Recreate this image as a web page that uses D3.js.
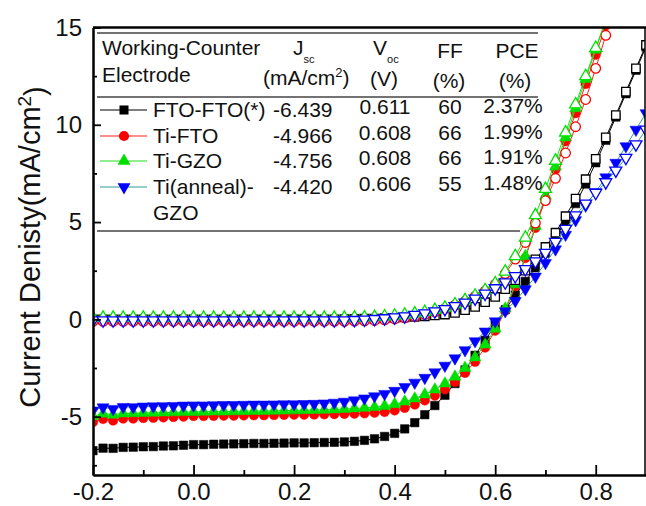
<!DOCTYPE html>
<html>
<head>
<meta charset="utf-8">
<script src="https://cdn.jsdelivr.net/npm/d3@7"></script>
<style>
body { margin: 0; background: #fff; }
text { font-family: "Liberation Sans", Arial, Helvetica, sans-serif; fill: #111; }
</style>
</head>
<body>
<script>
// Voltage grid (V)
var voltage = [-0.20,-0.18,-0.16,-0.14,-0.12,-0.10,-0.08,-0.06,-0.04,-0.02,
  0.00,0.02,0.04,0.06,0.08,0.10,0.12,0.14,0.16,0.18,
  0.20,0.22,0.24,0.26,0.28,0.30,0.32,0.34,0.36,0.38,
  0.40,0.42,0.44,0.46,0.48,0.50,0.52,0.54,0.56,0.58,
  0.60,0.62,0.64,0.66,0.68,0.70,0.72,0.74,0.76,0.78,
  0.80,0.82,0.84,0.86,0.88,0.90];

// Current density under light (filled markers), mA/cm2
var ftoLight = [-6.75,-6.62,-6.63,-6.58,-6.57,-6.55,-6.54,-6.51,-6.50,-6.47,
  -6.44,-6.44,-6.42,-6.41,-6.40,-6.39,-6.38,-6.38,-6.37,-6.36,
  -6.35,-6.35,-6.34,-6.33,-6.32,-6.30,-6.27,-6.22,-6.14,-6.02,
  -5.86,-5.63,-5.31,-4.90,-4.43,-3.90,-3.30,-2.60,-1.85,-1.08,
  -0.30,0.50,1.25,1.95,2.65,3.40,4.20,5.05,5.95,6.95,
  8.05,9.20,10.40,11.60,12.80,14.00];
var tiFtoLight = [-5.28,-5.12,-5.20,-5.10,-5.10,-5.07,-5.06,-5.04,-5.02,-5.00,
  -4.97,-4.97,-4.96,-4.95,-4.95,-4.94,-4.93,-4.93,-4.92,-4.91,
  -4.90,-4.90,-4.89,-4.88,-4.87,-4.86,-4.85,-4.83,-4.80,-4.76,
  -4.68,-4.55,-4.38,-4.17,-3.92,-3.60,-3.22,-2.75,-2.18,-1.45,
  -0.58,0.45,1.70,3.15,4.70,6.20,7.70,9.15,10.60,12.10,
  13.60,15.10,16.60];
var tiGzoLight = [-4.98,-4.85,-4.90,-4.84,-4.83,-4.81,-4.80,-4.79,-4.78,-4.77,
  -4.76,-4.75,-4.74,-4.74,-4.73,-4.72,-4.71,-4.71,-4.70,-4.69,
  -4.68,-4.67,-4.66,-4.65,-4.63,-4.61,-4.58,-4.55,-4.51,-4.45,
  -4.36,-4.23,-4.07,-3.86,-3.61,-3.30,-2.95,-2.50,-1.96,-1.30,
  -0.48,0.55,1.80,3.25,4.80,6.35,7.85,9.35,10.85,12.35,
  13.85,15.35,16.80];
var tiAnnLight = [-4.68,-4.52,-4.60,-4.50,-4.51,-4.48,-4.47,-4.46,-4.45,-4.43,
  -4.42,-4.42,-4.41,-4.40,-4.40,-4.39,-4.38,-4.38,-4.37,-4.36,
  -4.36,-4.35,-4.34,-4.32,-4.28,-4.23,-4.16,-4.06,-3.95,-3.83,
  -3.67,-3.47,-3.25,-3.00,-2.72,-2.38,-2.00,-1.58,-1.12,-0.62,
  -0.10,0.42,0.95,1.55,2.20,2.90,3.60,4.35,5.10,5.85,
  6.55,7.30,8.05,8.90,9.75,10.60];

// Current density in the dark (open markers)
var ftoDark = [0.00,0.00,0.00,0.00,0.00,0.00,0.00,0.00,0.00,0.00,
  0.00,0.00,0.00,0.00,0.00,0.00,0.00,0.00,0.00,0.00,
  0.00,0.00,0.00,0.00,0.00,0.01,0.02,0.03,0.04,0.06,
  0.08,0.10,0.13,0.16,0.20,0.25,0.33,0.47,0.64,0.88,
  1.15,1.55,2.02,2.50,3.08,3.72,4.45,5.30,6.20,7.20,
  8.25,9.35,10.50,11.70,12.90,14.10];
var tiFtoDark = [-0.10,-0.10,-0.10,-0.10,-0.10,-0.10,-0.10,-0.10,-0.10,-0.10,
  -0.10,-0.10,-0.10,-0.10,-0.10,-0.10,-0.10,-0.10,-0.10,-0.10,
  -0.10,-0.10,-0.10,-0.10,-0.10,-0.10,-0.09,-0.08,-0.06,-0.03,
  0.02,0.08,0.15,0.25,0.38,0.55,0.73,0.93,1.18,1.45,
  1.80,2.35,3.10,3.95,4.95,6.10,7.25,8.55,9.90,11.30,
  12.90,14.60,16.30];
var tiGzoDark = [0.08,0.08,0.08,0.08,0.08,0.08,0.08,0.08,0.08,0.08,
  0.08,0.08,0.08,0.08,0.08,0.08,0.08,0.08,0.08,0.08,
  0.08,0.08,0.08,0.08,0.08,0.08,0.09,0.10,0.12,0.15,
  0.19,0.24,0.30,0.38,0.48,0.60,0.77,0.98,1.22,1.50,
  1.85,2.45,3.25,4.20,5.35,6.70,8.15,9.60,11.05,12.50,
  13.95,15.40,16.90];
var tiAnnDark = [-0.05,-0.05,-0.05,-0.05,-0.05,-0.05,-0.05,-0.05,-0.05,-0.05,
  -0.05,-0.05,-0.05,-0.05,-0.05,-0.05,-0.05,-0.05,-0.05,-0.05,
  -0.05,-0.05,-0.05,-0.05,-0.05,-0.05,-0.03,-0.01,0.02,0.06,
  0.10,0.16,0.23,0.31,0.41,0.53,0.68,0.86,1.07,1.32,
  1.60,1.90,2.22,2.58,2.98,3.42,3.98,4.65,5.35,5.95,
  6.50,7.05,7.65,8.30,9.00,9.75];

// Table values
var cellNames = ["FTO-FTO(*)", "Ti-FTO", "Ti-GZO", "Ti(anneal)-"];
var jscValues = ["-6.439", "-4.966", "-4.756", "-4.420"];
var vocValues = ["0.611", "0.608", "0.608", "0.606"];
var ffValues = ["60", "66", "66", "55"];
var pceValues = ["2.37%", "1.99%", "1.91%", "1.48%"];

var xTicks = [-0.2, 0.0, 0.2, 0.4, 0.6, 0.8];
var xMinor = [-0.1, 0.1, 0.3, 0.5, 0.7];
var yTicks = [-5, 0, 5, 10, 15];
var yMinor = [-7.5, -2.5, 2.5, 7.5, 12.5];

var series = [
  { light: ftoLight, dark: ftoDark, color: "#000000", line: "#000000", shape: d3.symbolSquare, size: 72, rot: 0 },
  { light: tiFtoLight, dark: tiFtoDark, color: "#ff0000", line: "#ff2020", shape: d3.symbolCircle, size: 72, rot: 0 },
  { light: tiGzoLight, dark: tiGzoDark, color: "#00e000", line: "#20e020", shape: d3.symbolTriangle, size: 62, rot: 0 },
  { light: tiAnnLight, dark: tiAnnDark, color: "#0000ff", line: "#339c9c", shape: d3.symbolTriangle, size: 62, rot: 180 }
];

var width = 646, height = 506;
var plotLeft = 93, plotRight = 646, plotTop = 27.5, plotBottom = 475;

var svg = d3.select("body").append("svg")
    .attr("width", width)
    .attr("height", height);

var x = d3.scaleLinear().domain([-0.2, 0.9]).range([plotLeft, plotRight]);
var y = d3.scaleLinear().domain([-8, 15]).range([plotBottom, plotTop]);

svg.append("clipPath").attr("id", "plot-clip")
  .append("rect")
    .attr("x", plotLeft).attr("y", plotTop)
    .attr("width", 645 - plotLeft).attr("height", plotBottom - plotTop);

var plot = svg.append("g").attr("clip-path", "url(#plot-clip)");

function drawCurve(s, values, open) {
    var pts = values.map(function(v, i) { return [voltage[i], v]; });
    var line = d3.line()
        .x(function(d) { return x(d[0]); })
        .y(function(d) { return y(d[1]); });
    plot.append("path")
        .datum(pts)
        .attr("d", line)
        .attr("fill", "none")
        .attr("stroke", s.line)
        .attr("stroke-width", 1);
    var sym = d3.symbol().type(s.shape).size(s.size);
    plot.selectAll(null)
        .data(pts)
        .enter().append("path")
        .attr("d", sym)
        .attr("transform", function(d) { return "translate(" + x(d[0]) + "," + y(d[1]) + ") rotate(" + s.rot + ")"; })
        .attr("fill", open ? "#fff" : s.color)
        .attr("stroke", s.color)
        .attr("stroke-width", open ? 1.3 : 0.5);
}

// Light curves first, dark curves on top
series.forEach(function(s) { drawCurve(s, s.light, false); });
series.forEach(function(s) { drawCurve(s, s.dark, true); });

// Axes
function styleAxis(g) {
    g.selectAll(".domain").attr("stroke", "#000").attr("stroke-width", 2);
    g.selectAll(".tick line").attr("stroke", "#000").attr("stroke-width", 1.8);
    g.selectAll(".tick text").style("font-size", "24px").attr("fill", "#111");
}

svg.append("g")
    .attr("transform", "translate(0," + plotBottom + ")")
    .call(d3.axisBottom(x).tickValues(xTicks).tickFormat(function(d) { return d.toFixed(1); })
        .tickSize(-10).tickSizeOuter(0).tickPadding(8))
    .call(styleAxis);
svg.append("g")
    .attr("transform", "translate(0," + plotBottom + ")")
    .call(d3.axisBottom(x).tickValues(xMinor).tickFormat("").tickSize(-5).tickSizeOuter(0))
    .call(styleAxis);

svg.append("g")
    .attr("transform", "translate(" + plotLeft + ",0)")
    .call(d3.axisLeft(y).tickValues(yTicks).tickFormat(function(d) { return String(d); })
        .tickSize(-8).tickSizeOuter(0).tickPadding(11))
    .call(styleAxis);
svg.append("g")
    .attr("transform", "translate(" + plotLeft + ",0)")
    .call(d3.axisLeft(y).tickValues(yMinor).tickFormat("").tickSize(-4).tickSizeOuter(0))
    .call(styleAxis);

// Top and right frame
svg.append("line").attr("x1", plotLeft).attr("x2", 646).attr("y1", plotTop).attr("y2", plotTop)
    .attr("stroke", "#000").attr("stroke-width", 2.5);
svg.append("line").attr("x1", 645).attr("x2", 645).attr("y1", plotTop).attr("y2", plotBottom)
    .attr("stroke", "#000").attr("stroke-width", 1.5);

// Y axis label
var yl = svg.append("text")
    .attr("transform", "translate(40,247) rotate(-90)")
    .attr("text-anchor", "middle")
    .style("font-size", "29px");
yl.append("tspan").text("Current Denisty(mA/cm");
yl.append("tspan").attr("dy", "-0.45em").style("font-size", "19px").text("2");
yl.append("tspan").attr("dy", "0.45em").text(")");

// Table inside the plot
var table = svg.append("g");
[[33, 538], [97, 538], [231, 520]].forEach(function(l) {
    table.append("line")
        .attr("x1", 97).attr("x2", l[1]).attr("y1", l[0]).attr("y2", l[0])
        .attr("stroke", "#444").attr("stroke-width", 1.5);
});

function addText(str, tx, ty, anchor) {
    return table.append("text")
        .attr("x", tx).attr("y", ty)
        .attr("text-anchor", anchor || "start")
        .style("font-size", "21px")
        .text(str);
}

addText("Working-Counter", 102, 55);
addText("Electrode", 102, 82);

var jh = addText("J", 293, 55);
jh.append("tspan").attr("dy", 8).style("font-size", "11px").text("sc");
var mh = addText("(mA/cm", 263, 85);
mh.append("tspan").attr("dy", -8).style("font-size", "13px").text("2");
mh.append("tspan").attr("dy", 8).text(")");

var vh = addText("V", 373, 55);
vh.append("tspan").attr("dy", 8).style("font-size", "11px").text("oc");
addText("(V)", 384, 86, "middle");
addText("FF", 450, 58, "middle");
addText("(%)", 449, 88, "middle");
addText("PCE", 517, 58, "middle");
addText("(%)", 515, 88, "middle");

var rowBase = [117, 143, 168, 194];
var rowMid = [110, 136, 161, 187];

cellNames.forEach(function(n, i) {
    addText(n, 153, rowBase[i]);
    addText(jscValues[i], 273, rowBase[i]);
    addText(vocValues[i], 385, rowBase[i] - 3, "middle");
    addText(ffValues[i], 450, rowBase[i] - 3, "middle");
    addText(pceValues[i], 513, rowBase[i] - 4, "middle");

    var s = series[i];
    table.append("line")
        .attr("x1", 100).attr("x2", 147).attr("y1", rowMid[i]).attr("y2", rowMid[i])
        .attr("stroke", s.line).attr("stroke-width", 1.2);
    table.append("path")
        .attr("d", d3.symbol().type(s.shape).size(s.size + 10))
        .attr("transform", "translate(124," + rowMid[i] + ") rotate(" + s.rot + ")")
        .attr("fill", s.color);
});
addText("GZO", 153, 220);
</script>
</body>
</html>
